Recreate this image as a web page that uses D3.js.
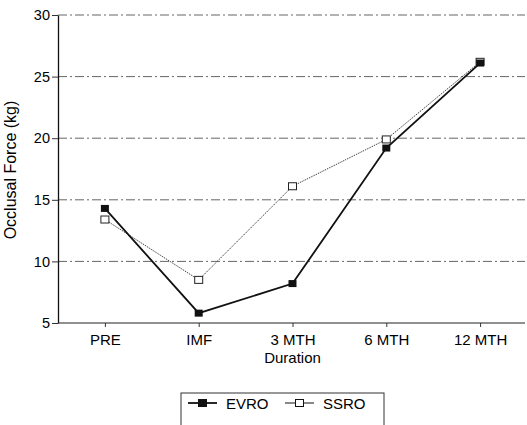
<!DOCTYPE html>
<html>
<head>
<meta charset="utf-8">
<script src="https://cdn.jsdelivr.net/npm/d3@7"></script>
<style>
  body { margin: 0; background: #fff; }
  svg { font-family: "Liberation Sans", Arial, sans-serif; }
  .grid-line { stroke: #555; stroke-width: 0.9; stroke-dasharray: 9,3,2,3; }
</style>
</head>
<body>
<div id="chart"></div>
<script>
const durations = ["PRE", "IMF", "3 MTH", "6 MTH", "12 MTH"];
const evro = [14.3, 5.8, 8.2, 19.2, 26.1];
const ssro = [13.4, 8.5, 16.1, 19.9, 26.2];
const yTicks = [5, 10, 15, 20, 25, 30];

const W = 527, H = 425;
const MARGIN = { top: 15, right: 0, bottom: 102, left: 58 };

const svg = d3.select("#chart").append("svg")
  .attr("width", W).attr("height", H);

const xScale = d3.scalePoint().domain(durations)
  .range([MARGIN.left, W - MARGIN.right]).padding(0.5);
const yScale = d3.scaleLinear().domain([5, 30])
  .range([H - MARGIN.bottom, MARGIN.top]);

// gridlines
svg.append("g")
  .selectAll("line")
  .data(yTicks.filter(d => d > 5))
  .join("line")
  .attr("class", "grid-line")
  .attr("x1", MARGIN.left).attr("x2", W - 2)
  .attr("y1", d => yScale(d)).attr("y2", d => yScale(d));

// y axis
svg.append("g")
  .attr("transform", `translate(${MARGIN.left},0)`)
  .call(d3.axisLeft(yScale).tickValues(yTicks).tickSize(6).tickSizeOuter(0).tickPadding(2))
  .call(g => g.select(".domain").attr("stroke", "#111").attr("stroke-width", 1.3))
  .call(g => g.selectAll(".tick line").attr("stroke", "#333"))
  .call(g => g.selectAll("text").attr("font-size", 14.5).attr("fill", "#000"));

// x axis
svg.append("g")
  .attr("transform", `translate(0,${yScale(5)})`)
  .call(d3.axisBottom(xScale).tickSize(4).tickSizeOuter(0).tickPadding(7))
  .call(g => g.select(".domain").attr("stroke", "#222").attr("stroke-width", 1.2)
    .attr("d", `M${MARGIN.left},0H${W - 2}`))
  .call(g => g.selectAll(".tick line").attr("stroke", "#333"))
  .call(g => g.selectAll("text").attr("font-size", 15).attr("fill", "#000"));

svg.append("text")
  .attr("x", (MARGIN.left + W) / 2).attr("y", 363)
  .attr("text-anchor", "middle").attr("font-size", 15).attr("fill", "#000")
  .text("Duration");

svg.append("text")
  .attr("transform", "rotate(-90)")
  .attr("x", -170).attr("y", 16)
  .attr("text-anchor", "middle").attr("font-size", 16).attr("fill", "#000")
  .text("Occlusal Force (kg)");

const line = d3.line()
  .x((d, i) => xScale(durations[i]))
  .y(d => yScale(d));

// SSRO
svg.append("path").datum(ssro)
  .attr("d", line).attr("fill", "none")
  .attr("stroke", "#444").attr("stroke-width", 1)
  .attr("stroke-dasharray", "1.5,1");
svg.append("g").selectAll("rect").data(ssro).join("rect")
  .attr("x", (d, i) => xScale(durations[i]) - 4)
  .attr("y", d => yScale(d) - 3.5)
  .attr("width", 8).attr("height", 7)
  .attr("fill", "#fff").attr("stroke", "#222").attr("stroke-width", 1);

// EVRO
svg.append("path").datum(evro)
  .attr("d", line).attr("fill", "none")
  .attr("stroke", "#111").attr("stroke-width", 1.8);
svg.append("g").selectAll("rect").data(evro).join("rect")
  .attr("x", (d, i) => xScale(durations[i]) - 4)
  .attr("y", d => yScale(d) - 3.5)
  .attr("width", 8).attr("height", 7)
  .attr("fill", "#111");

// legend
const legend = svg.append("g");
legend.append("rect")
  .attr("x", 181).attr("y", 393).attr("width", 203).attr("height", 40)
  .attr("fill", "none").attr("stroke", "#333").attr("stroke-width", 1);

const items = [
  { label: "EVRO", x: 188, filled: true },
  { label: "SSRO", x: 285, filled: false }
];
items.forEach(it => {
  const g = legend.append("g").attr("transform", `translate(${it.x},403)`);
  g.append("line").attr("x1", 0).attr("x2", 29).attr("y1", 0).attr("y2", 0)
    .attr("stroke", "#111").attr("stroke-width", it.filled ? 1.8 : 1);
  g.append("rect").attr("x", 10.5).attr("y", -3.5).attr("width", 8).attr("height", 7)
    .attr("fill", it.filled ? "#111" : "#fff").attr("stroke", "#111").attr("stroke-width", 1);
  g.append("text").attr("x", 38).attr("y", 5.5)
    .attr("font-size", 15).attr("fill", "#000").text(it.label);
});
</script>
</body>
</html>
